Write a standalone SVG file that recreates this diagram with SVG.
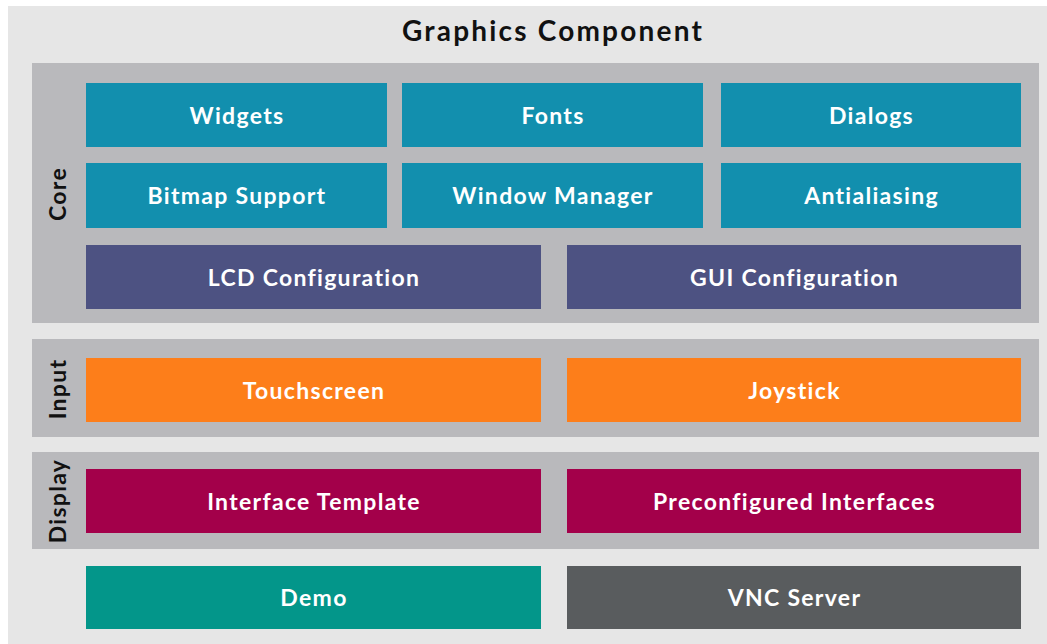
<svg xmlns="http://www.w3.org/2000/svg" width="1047" height="644" viewBox="0 0 1047 644">
<style>
text{font-family:Lato,"Open Sans","Liberation Sans",sans-serif;font-weight:bold;}
.t{fill:#ffffff;font-size:23px;letter-spacing:1.3px;text-anchor:middle;}
.side{fill:#111111;font-size:23px;letter-spacing:1.3px;text-anchor:middle;}
.panel{fill:#b9b9bc;}
.teal{fill:#128fae;}
.purple{fill:#4d5282;}
.orange{fill:#fd7e1a;}
.mag{fill:#a3004a;}
.green{fill:#03968a;}
.gray{fill:#595c5e;}
</style>
<rect width="1047" height="644" fill="#ffffff"/>
<rect x="8" y="6" width="1039" height="638" fill="#e6e6e6"/>
<text x="553" y="41" text-anchor="middle" font-size="28" letter-spacing="2.2" fill="#111111">Graphics Component</text>
<g id="core-panel">
<rect class="panel" x="32" y="63" width="1007" height="260"/>
<text class="side" transform="translate(66,194) rotate(-90)">Core</text>
</g>
<g id="input-panel">
<rect class="panel" x="32" y="339" width="1007" height="98"/>
<text class="side" transform="translate(66,389) rotate(-90)">Input</text>
</g>
<g id="display-panel">
<rect class="panel" x="32" y="452" width="1007" height="97"/>
<text class="side" transform="translate(66,501) rotate(-90)">Display</text>
</g>
<g id="widgets"><rect class="teal" x="86" y="83" width="301" height="64"/><text class="t" x="237" y="124">Widgets</text></g>
<g id="fonts"><rect class="teal" x="402" y="83" width="301" height="64"/><text class="t" x="553" y="124">Fonts</text></g>
<g id="dialogs"><rect class="teal" x="721" y="83" width="300" height="64"/><text class="t" x="871.5" y="124">Dialogs</text></g>
<g id="bitmap"><rect class="teal" x="86" y="163" width="301" height="65"/><text class="t" x="237" y="204">Bitmap Support</text></g>
<g id="window"><rect class="teal" x="402" y="163" width="301" height="65"/><text class="t" x="553" y="204">Window Manager</text></g>
<g id="antialiasing"><rect class="teal" x="721" y="163" width="300" height="65"/><text class="t" x="871.5" y="204">Antialiasing</text></g>
<g id="lcd"><rect class="purple" x="86" y="245" width="455" height="64"/><text class="t" x="314" y="285.5">LCD Configuration</text></g>
<g id="gui"><rect class="purple" x="567" y="245" width="454" height="64"/><text class="t" x="794.5" y="285.5">GUI Configuration</text></g>
<g id="touchscreen"><rect class="orange" x="86" y="358" width="455" height="64"/><text class="t" x="314" y="398.5">Touchscreen</text></g>
<g id="joystick"><rect class="orange" x="567" y="358" width="454" height="64"/><text class="t" x="794.5" y="398.5">Joystick</text></g>
<g id="interface-template"><rect class="mag" x="86" y="469" width="455" height="64"/><text class="t" x="314" y="509.5">Interface Template</text></g>
<g id="preconfigured"><rect class="mag" x="567" y="469" width="454" height="64"/><text class="t" x="794.5" y="509.5">Preconfigured Interfaces</text></g>
<g id="demo"><rect class="green" x="86" y="566" width="455" height="63"/><text class="t" x="314" y="606">Demo</text></g>
<g id="vnc"><rect class="gray" x="567" y="566" width="454" height="63"/><text class="t" x="794.5" y="606">VNC Server</text></g>
<g id="connectors"></g>
</svg>
